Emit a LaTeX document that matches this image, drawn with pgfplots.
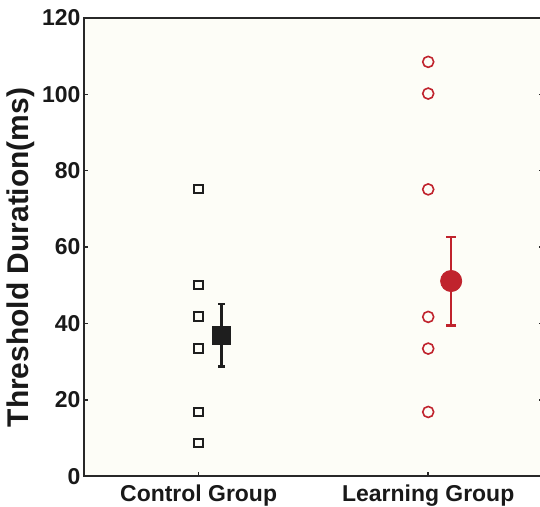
\documentclass[border=0pt]{standalone}
\usepackage{pgfplots}
\pgfplotsset{compat=1.18}
\usepackage{fontspec}
\setmainfont{Liberation Sans}
\definecolor{bgcream}{RGB}{253,253,247}
\definecolor{axgray}{RGB}{40,40,40}
\definecolor{mblack}{RGB}{30,30,30}
\definecolor{lred}{RGB}{192,35,45}
\begin{document}
\begin{tikzpicture}
\begin{axis}[
  name=ax,
  scale only axis,
  width=230pt, height=229.5pt,
  xmin=0.5, xmax=2.5, ymin=0, ymax=120,
  ytick={0,20,...,120},
  xtick={1,2},
  xticklabels={Control Group, Learning Group},
  axis background/.style={fill=bgcream},
  axis line style={axgray, line width=1pt},
  tick style={axgray, line width=0.8pt},
  tick align=inside,
  major tick length=2.2pt,
  xtick pos=bottom,
  ytick pos=both,
  /pgf/number format/assume math mode=true,
  ticklabel style={font=\bfseries\fontsize{11.5}{13}\selectfont, text=black!90},
  yticklabel style={inner sep=1.5pt},
  xticklabel style={inner sep=4pt},
  ylabel={Threshold Duration(ms)},
  ylabel style={font=\bfseries\fontsize{15}{18}\selectfont, text=black!90, at={(rel axis cs:-0.137,0.477)}, anchor=center},
  clip=false,
]
% Control group individual points
\addplot[only marks, mark=square, mark size=2.1pt, mark options={draw=mblack, line width=1pt, fill=white}]
  coordinates {(1,75.2) (1,50.0) (1,41.8) (1,33.4) (1,16.8) (1,8.6)};
% Control mean with SE
\addplot[only marks, mark=square*, mark size=4.4pt, color=mblack, mark options={fill=mblack},
  error bars/.cd, y dir=both, y explicit,
  error bar style={line width=1.2pt, mblack},
  error mark options={rotate=90, mark size=1.6pt, line width=1.2pt, mblack}]
  coordinates {(1.1,36.9) +- (0,8.2)};
% Learning group individual points
\addplot[only marks, mark=o, mark size=2.75pt, mark options={draw=lred, line width=0.8pt}]
  coordinates {(2,108.5) (2,100.2) (2,75.1) (2,41.7) (2,33.4) (2,16.8)};
% Learning mean with SE
\addplot[only marks, mark=*, mark size=5.3pt, color=lred, mark options={fill=lred},
  error bars/.cd, y dir=both, y explicit,
  error bar style={line width=1.2pt, lred},
  error mark options={rotate=90, mark size=2.5pt, line width=1.2pt, lred}]
  coordinates {(2.1,51.1) +- (0,11.6)};
\end{axis}
\pgfresetboundingbox
\useasboundingbox ([xshift=-42pt,yshift=-15pt]ax.south west) rectangle ([xshift=-1.5pt,yshift=9pt]ax.north east);
\end{tikzpicture}
\end{document}
